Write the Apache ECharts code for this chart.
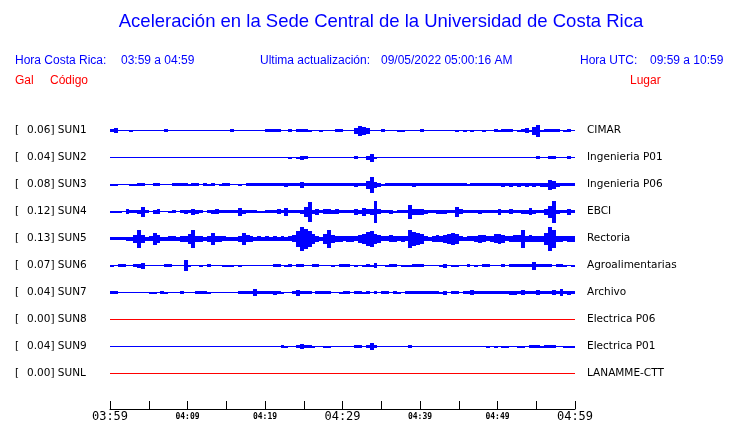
<!DOCTYPE html>
<html><head><meta charset="utf-8">
<script src="https://cdn.jsdelivr.net/npm/echarts/dist/echarts.min.js"></script>
<style>html,body{margin:0;padding:0;background:#fff}#c{width:740px;height:423px}</style>
</head><body><div id="c"></div>
<script>
// ---------- DATA ----------
const stations = ['SUN1','SUN2','SUN3','SUN4','SUN5','SUN6','SUN7','SUN8','SUN9','SUNL'];
const peakGal  = ['0.06','0.04','0.08','0.12','0.13','0.07','0.04','0.00','0.04','0.00'];
const places   = ['CIMAR','Ingenieria P01','Ingenieria P06','EBCI','Rectoria','Agroalimentarias','Archivo','Electrica P06','Electrica P01','LANAMME-CTT'];
const tickLabels = ['03:59','','04:09','','04:19','','04:29','','04:39','','04:49','','04:59'];
const majorLabels = ['03:59','04:29','04:59'];
const sampleStep = 0.5;   // minutes per envelope sample
const timeSpan = [0, 60]; // minutes after 03:59
// envelope half-heights per 30 s
const sun1 = [1.5,2.3,0.5,0.5,0.5,1.0,0.5,0.5,0.5,0.5, 0.5,0.5,0.5,0.5,1.5,0.5,0.5,0.5,0.5,0.5,
  0.5,0.5,0.5,0.5,0.5,0.5,0.5,0.5,0.5,0.5, 0.5,1.2,0.5,0.5,0.8,0.5,0.5,0.5,0.5,0.5,
  1.5,1.2,1.5,1.3,0.5,0.5,1.2,0.5,1.5,1.5, 1.2,1.0,0.5,0.5,1.0,0.5,0.5,0.8,1.5,1.3,
  0.5,0.5,0.5,3.0,5.0,4.0,3.0,0.5,0.5,0.5, 1.5,0.5,0.5,0.8,1.0,1.0,0.5,0.5,0.5,0.5,
  1.2,0.5,0.5,0.5,0.5,0.5,0.5,0.5,0.5,1.0, 0.8,1.0,0.8,1.0,0.5,0.5,1.0,0.5,0.5,1.7,
  1.0,1.2,1.3,1.3,0.5,1.0,1.5,2.3,1.0,4.0, 6.0,1.0,1.2,1.2,1.7,1.5,0.5,1.0,1.2,0.5];
const sun2 = [0.5,0.5,0.5,0.5,0.5,0.5,0.5,0.5,0.5,0.5, 0.5,0.5,0.5,0.5,0.5,0.5,0.5,0.5,0.5,0.5,
  0.5,0.5,0.5,0.5,0.5,0.5,0.5,0.5,0.5,0.5, 0.5,0.5,0.5,0.5,0.5,0.5,0.5,0.5,0.5,0.5,
  0.5,0.5,0.5,0.5,0.5,0.5,1.0,0.5,1.0,2.0, 1.5,0.5,0.5,0.5,0.5,0.5,0.5,0.5,0.5,0.5,
  0.5,0.5,0.5,1.5,0.5,0.5,2.0,4.0,1.0,0.5, 0.5,0.5,0.5,0.5,0.5,0.5,0.5,0.5,0.8,0.5,
  0.5,0.5,0.5,0.5,0.5,0.5,0.5,0.5,0.5,0.5, 0.5,0.5,0.5,0.5,0.5,0.5,0.5,0.5,0.5,0.5,
  0.5,0.5,0.5,0.8,0.5,0.5,0.5,0.5,0.5,0.5, 1.3,0.5,0.5,1.5,1.5,0.5,0.5,0.5,1.5,0.5];
const sun3 = [1.0,1.0,0.5,0.5,0.8,1.0,1.0,1.3,1.7,0.8, 0.5,1.5,1.3,0.5,0.8,0.5,1.2,1.3,1.2,1.7,
  1.0,1.3,1.3,0.8,1.3,1.0,1.3,0.8,1.0,1.2, 1.2,0.8,0.8,1.0,0.8,1.2,1.3,1.5,1.5,1.5,
  1.5,1.5,1.5,1.5,1.5,2.0,1.5,1.5,1.5,3.0, 1.5,1.5,1.5,1.5,1.5,1.5,1.5,1.5,1.5,1.5,
  1.5,1.5,1.5,2.0,1.5,1.5,4.0,8.0,3.0,2.0, 1.0,1.3,1.3,1.3,1.3,1.3,1.3,1.3,2.0,1.3,
  1.5,1.5,1.2,1.3,1.5,1.5,1.5,1.5,1.5,1.5, 1.5,1.5,1.0,1.5,1.5,1.5,1.5,1.5,1.5,1.5,
  1.5,2.0,1.5,2.0,1.5,2.0,1.5,2.0,1.5,2.0, 1.5,2.0,2.0,5.0,4.0,2.0,1.5,1.5,1.5,1.5];
const sun4 = [1.0,1.0,1.0,0.8,2.3,1.2,1.5,2.0,5.0,1.5, 0.5,2.0,2.7,0.5,0.5,1.0,1.5,0.8,1.5,2.0,
  1.5,3.0,2.0,1.7,0.8,1.2,2.0,2.5,1.7,1.2, 1.7,1.2,1.5,4.0,2.0,1.5,1.5,1.7,1.0,1.0,
  1.2,1.2,1.5,2.5,1.5,4.0,1.5,1.5,1.5,2.0, 5.0,10.0,2.0,3.0,1.5,2.5,2.5,2.0,2.5,1.5,
  1.5,1.5,1.7,3.0,2.0,4.0,2.5,3.0,11.0,2.5, 1.5,1.5,2.0,1.0,1.5,1.5,1.5,7.0,3.0,3.0,
  3.0,2.0,1.2,1.5,2.0,2.0,2.0,1.5,1.5,5.0, 2.5,1.5,1.5,1.5,1.2,2.0,1.2,1.2,1.2,1.5,
  3.0,1.5,1.5,2.5,1.2,1.5,2.0,2.0,3.5,2.0, 1.5,1.7,3.0,6.0,11.0,2.0,1.5,1.5,3.0,1.5];
const sun5 = [1.7,1.7,1.7,1.7,2.0,2.0,4.0,9.0,4.0,2.0, 2.5,6.0,4.0,2.0,2.0,2.5,2.5,2.0,3.0,3.0,
  5.0,9.0,3.0,3.0,2.0,3.0,6.0,3.0,3.0,2.5, 2.0,2.0,2.0,3.0,6.0,3.5,3.0,2.0,2.5,2.0,
  2.5,2.0,2.5,2.0,2.5,2.0,2.5,3.5,8.0,12.0, 10.0,8.0,5.0,3.0,2.0,5.0,9.0,4.0,3.0,3.0,
  2.5,3.0,3.0,2.5,4.0,5.0,7.0,8.0,5.0,4.0, 2.5,2.5,3.5,3.0,2.5,3.0,2.5,9.0,7.0,6.0,
  5.0,2.5,2.0,3.0,3.5,3.0,4.0,5.0,6.0,5.0, 2.5,2.0,2.5,2.5,3.0,4.0,3.5,2.5,3.0,4.5,
  5.0,4.0,2.5,3.0,3.5,3.5,9.0,3.0,3.5,3.0, 3.0,3.0,6.0,12.0,9.0,3.0,3.0,2.5,3.0,3.0];
const sun6 = [1.0,0.5,1.2,1.2,0.5,0.5,1.3,2.0,3.0,0.5, 0.5,0.8,0.5,0.5,1.3,1.3,0.5,0.5,0.5,5.5,
  1.0,0.5,0.5,1.0,0.5,1.3,0.5,0.5,0.5,1.0, 1.0,1.0,0.8,1.0,0.5,0.5,0.5,0.5,0.8,0.5,
  0.5,0.5,1.2,1.2,0.5,1.0,1.2,0.5,1.5,1.5, 0.5,0.8,1.3,1.3,0.5,0.5,0.5,1.0,0.5,1.3,
  1.3,1.3,0.8,1.0,0.8,1.0,1.3,1.0,2.5,0.5, 0.5,1.0,1.3,1.3,0.5,1.0,1.0,1.0,1.3,1.3,
  1.3,0.5,0.5,0.5,0.5,1.0,2.0,0.5,1.0,1.0, 0.5,0.5,1.5,0.5,1.0,0.5,1.3,1.3,0.8,0.5,
  0.5,1.3,0.8,1.3,1.5,1.5,1.3,1.5,1.5,4.0, 1.5,1.5,1.3,1.5,0.5,1.3,1.5,1.0,0.5,1.0];
const sun7 = [1.3,1.3,0.8,0.5,0.5,0.5,0.5,0.8,0.5,0.8, 1.0,1.0,0.5,1.3,1.0,0.5,0.5,0.5,1.3,0.5,
  0.5,0.5,1.5,1.5,1.5,1.0,0.5,0.5,0.5,0.8, 0.5,0.5,0.5,1.5,1.2,1.5,1.5,3.5,1.3,1.3,
  1.3,1.3,2.0,1.3,1.0,0.5,0.8,1.3,3.0,1.3, 1.3,1.3,0.5,1.5,1.5,1.5,1.5,0.8,0.5,1.0,
  1.3,1.3,0.8,1.3,1.3,1.0,1.3,0.8,1.3,0.8, 1.5,1.5,0.8,1.3,1.0,0.5,1.3,1.5,1.5,1.5,
  1.5,1.3,1.3,1.3,1.3,1.0,2.0,0.5,1.3,1.3, 0.8,1.5,1.5,2.5,1.5,1.5,1.5,1.3,1.3,1.3,
  1.3,1.3,1.5,2.0,2.0,1.3,2.5,1.5,1.3,1.3, 2.5,1.3,1.3,1.3,2.5,1.5,3.5,1.5,2.0,1.5];
const sun8 = []; // 0.00 Gal: no signal, flat trace
const sun9 = [0.5,0.5,0.5,0.5,0.5,0.5,0.5,0.5,0.5,0.5, 0.5,0.5,0.5,0.5,0.5,0.5,0.5,0.5,0.5,0.5,
  0.5,0.5,0.5,0.5,0.5,0.5,0.5,0.5,0.5,0.5, 0.5,0.5,0.5,0.5,0.5,0.5,0.5,0.5,0.5,0.5,
  0.5,0.5,0.5,0.5,1.3,1.0,0.5,0.5,1.3,2.5, 1.5,1.3,1.0,0.5,0.8,1.0,1.0,0.5,0.5,0.5,
  0.5,0.5,0.5,1.5,1.3,0.8,1.5,3.5,1.3,0.5, 0.5,0.5,0.5,0.8,0.5,0.5,0.5,1.2,0.5,0.5,
  0.5,0.5,0.5,0.5,0.5,0.5,0.5,0.5,0.5,0.8, 0.5,0.5,0.5,0.5,0.5,0.5,0.5,1.0,0.8,1.0,
  0.8,1.0,1.0,0.5,0.8,1.0,1.0,0.8,1.3,1.5, 1.3,1.0,1.5,1.5,1.3,0.5,0.5,1.0,1.0,1.0];
const sunl = []; // 0.00 Gal: no signal, flat trace
const traces = [sun1, sun2, sun3, sun4, sun5, sun6, sun7, sun8, sun9, sunl];

// ---------- LAYOUT / STYLE ----------
const BLUE = '#0000ff', RED = '#ff0000';
const LANE = 27;                       // y-units between traces
const laneCenter = i => LANE * (traces.length - 0.5 - i);
const traceColor = i => traces[i].length ? BLUE : RED;
const gridTop = 117, gridLeft = 110, gridW = 465;
const yMax = LANE * traces.length;     // top of first lane
const axisGap = 22;                    // space between last lane and time axis
const yMin = -axisGap;
const gridH = yMax - yMin;
const SANS = '"Liberation Sans", Arial, sans-serif';
const DV = '"DejaVu Sans", sans-serif';
const MONO = '"DejaVu Sans Mono", monospace';

const chart = echarts.init(document.getElementById('c'), null, {renderer: 'canvas'});

function envelopeRenderer(color) {
  return function (params, api) {
    const t = api.value(0), c = api.value(1), a = api.value(2);
    if (a <= 0.5) return null;
    const p1 = api.coord([t, c + a]);
    const p2 = api.coord([t + sampleStep, c - a]);
    const x1 = Math.round(p1[0]), x2 = Math.round(p2[0]);
    const y1 = Math.round(p1[1]), y2 = Math.round(p2[1]);
    return {type: 'rect', shape: {x: x1, y: y1, width: Math.max(1, x2 - x1), height: Math.max(1, y2 - y1)},
            style: {fill: color}};
  };
}

const series = [];
traces.forEach((arr, i) => {
  const c = laneCenter(i);
  series.push({
    type: 'line', silent: true, symbol: 'none', animation: false,
    data: [[timeSpan[0], c], [timeSpan[1], c]],
    lineStyle: {color: traceColor(i), width: 1}
  });
  series.push({
    type: 'custom', silent: true, animation: false,
    renderItem: envelopeRenderer(traceColor(i)),
    encode: {x: 0, y: 1},
    data: arr.map((a, k) => [timeSpan[0] + k * sampleStep, c, a])
  });
});

const graphics = [];
function txt(text, x, y, color, font, align) {
  graphics.push({type: 'text', x: x, y: y, silent: true,
    style: {text: text, fill: color, font: font, textAlign: align || 'left', textVerticalAlign: 'middle'}});
}
txt('Aceleración en la Sede Central de la Universidad de Costa Rica', 381, 22, BLUE, 'normal 18.5px ' + SANS, 'center');
txt('Hora Costa Rica:', 15, 60.5, BLUE, 'normal 12px ' + SANS);
txt('03:59 a 04:59', 121, 60.5, BLUE, 'normal 12px ' + SANS);
txt('Ultima actualización:', 260, 60.5, BLUE, 'normal 12px ' + SANS);
txt('09/05/2022 05:00:16 AM', 381, 60.5, BLUE, 'normal 12px ' + SANS);
txt('Hora UTC:', 580, 60.5, BLUE, 'normal 12px ' + SANS);
txt('09:59 a 10:59', 650, 60.5, BLUE, 'normal 12px ' + SANS);
txt('Gal', 15, 81, RED, 'normal 12px ' + SANS);
txt('Código', 50, 81, RED, 'normal 12px ' + SANS);
txt('Lugar', 630, 81, RED, 'normal 12px ' + SANS);
stations.forEach((s, i) => {
  const y = gridTop + (yMax - laneCenter(i));
  txt('[', 15, y, '#000', 'normal 10.5px ' + DV);
  txt(peakGal[i] + '] ' + s, 27, y, '#000', 'normal 10.5px ' + DV);
  txt(places[i], 587, y, '#000', 'normal 10.5px ' + DV);
});

chart.setOption({
  animation: false,
  backgroundColor: '#fff',
  grid: {left: gridLeft, top: gridTop, width: gridW, height: gridH},
  xAxis: {
    type: 'value', min: timeSpan[0], max: timeSpan[1], interval: 5,
    splitLine: {show: false},
    axisLine: {onZero: false, lineStyle: {color: '#000', width: 1}},
    axisTick: {inside: true, length: 8, lineStyle: {color: '#000'}},
    axisLabel: {
      margin: 2, hideOverlap: false, showMinLabel: true, showMaxLabel: true,
      formatter: v => {
        const s = tickLabels[Math.round(v / 5)] || '';
        if (!s) return '';
        return majorLabels.includes(s) ? '{b|' + s + '}' : '{s|' + s + '}';
      },
      rich: {
        b: {fontFamily: MONO, fontSize: 12, lineHeight: 12, color: '#000'},
        s: {fontFamily: MONO, fontSize: 8, fontWeight: 'bold', lineHeight: 12, color: '#000'}
      }
    }
  },
  yAxis: {type: 'value', min: yMin, max: yMax, show: false},
  series: series,
  graphic: graphics
});
</script></body></html>
